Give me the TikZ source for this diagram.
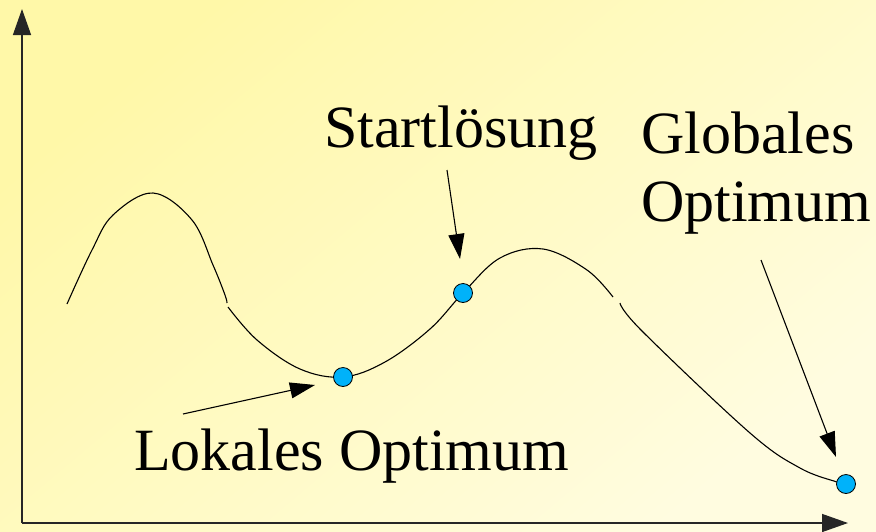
\documentclass[tikz,border=0pt]{standalone}
\usepackage{fontspec}
\setmainfont{Liberation Serif}
\usetikzlibrary{arrows.meta}
\definecolor{bgA}{RGB}{255,248,168}
\definecolor{bgB}{RGB}{255,252,224}
\definecolor{dotblue}{RGB}{0,178,250}
\tikzset{
  lbl/.style={anchor=base west, inner sep=0pt, font=\fontsize{60}{68}\selectfont},
  axis/.style={line width=1.4pt, draw=black!85, -{Triangle[length=26pt,width=18pt]}},
  pointer/.style={line width=1.1pt, -{Triangle[length=25pt,width=16pt]}},
  curve/.style={line width=1.1pt},
  dot/.style={circle, draw=black, line width=0.8pt, fill=dotblue, minimum size=19pt, inner sep=0pt}
}
\begin{document}
\begin{tikzpicture}[x=1pt,y=-1pt]
\useasboundingbox (0,0) rectangle (876,531);
\shade[top color=bgA, bottom color=bgB, shading angle=40] (0,0) rectangle (876,531);
% axes
\coordinate (o) at (22,523);
\coordinate (ytip) at (22,9);
\coordinate (xtip) at (848,523);
\draw[axis] (o) -- (ytip);
\draw[axis] (o) -- (xtip);
% curve
\draw[curve] plot[smooth, tension=0.6] coordinates {(67,304) (92,250) (113,215) (153,193) (192,220) (213,265) (225,295) (227,303)};
\draw[curve] plot[smooth, tension=0.6] coordinates {(228,307) (257,340) (300,369) (343,377) (385,362) (430,329) (463,293) (500,258) (543,249) (587,270) (613,297)};
\draw[curve] plot[smooth, tension=0.6] coordinates {(620,303) (642,331) (750,433) (800,468) (837,482) (846,484)};
% dots
\node[dot] (lok) at (343,377) {};
\node[dot] (start) at (463,293) {};
\node[dot] (glob) at (846,484) {};
% labels
\node[lbl] (tstart) at (324,147) {Startlösung};
\node[lbl] (tglob1) at (641,153) {Globales};
\node[lbl] (tglob2) at (641,221) {Optimum};
\node[lbl] (tlok) at (134,470) {Lokales Optimum};
% pointers
\coordinate (sa) at (447,170);
\coordinate (ga) at (761,260);
\coordinate (la) at (183,414);
\draw[pointer] (sa) -- (460,259);
\draw[pointer] (ga) -- (836,457);
\draw[pointer] (la) -- (315,385);
\end{tikzpicture}
\end{document}
